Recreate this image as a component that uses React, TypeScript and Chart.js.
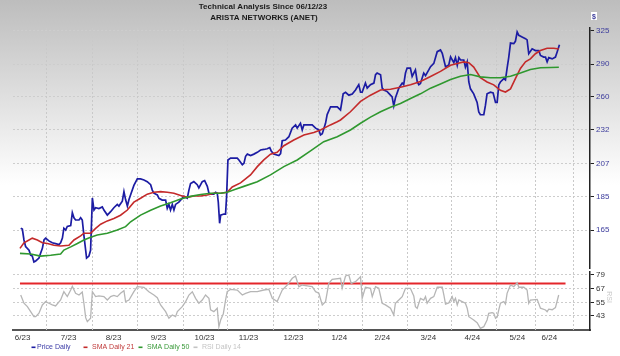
import React, { useEffect, useRef } from "react";
import { Chart, registerables } from "chart.js";

Chart.register(...registerables);

const title1 = "Technical Analysis Since 06/12/23";
const title2 = "ARISTA NETWORKS (ANET)";

// x values are calendar days since 06/12/23
const xLabels = ["6/23", "7/23", "8/23", "9/23", "10/23", "11/23", "12/23", "1/24", "2/24", "3/24", "4/24", "5/24", "6/24"];
const xLabelDays = [3.5, 34.5, 64.8, 95.1, 126.1, 155.8, 186.1, 217, 246, 277, 306.7, 337, 358.6];
const gridDays = [19, 50, 80.5, 111.3, 141.6, 172, 202.3, 232, 262.3, 292.6, 322.3, 348.6, 374.8];
const priceTicks = [165, 185, 207, 232, 260, 290, 325];
const rsiTicks = [43, 55, 67, 79];
const rsiLevel = 71.5;
const rsiLevelDays = [1.7, 369.5];

const priceSeries: [number, number][] = [
  [2.2, 166], [3.3, 165.5], [4.4, 159.5], [5.5, 156], [7.8, 154], [8.9, 151.5], [10, 151], [11.1, 148], [12.3, 148.5],
  [14.5, 150], [15.6, 152.5], [16.8, 155], [17.9, 159.5], [19, 160.5], [21.2, 159], [23.5, 158], [25.7, 157.5], [28, 157],
  [29.1, 158], [30.3, 160.5], [31.3, 166], [32.5, 165], [33.6, 167], [35.9, 167.5], [37, 175], [38.1, 172], [39.2, 170.7],
  [41.5, 170.7], [42.6, 172], [43.7, 170.7], [44.8, 162], [46, 154], [46.6, 150], [48.2, 151], [49.3, 154], [50.5, 184],
  [51.6, 176.6], [52.7, 178], [54.9, 177.5], [57.2, 178.5], [58.3, 176.6], [60.6, 173.6], [62.8, 175.6], [65, 178],
  [67.3, 180], [68.4, 179], [70.7, 182], [71.8, 188], [72.9, 183], [74.1, 179], [75.2, 183], [76.3, 186], [78.5, 192],
  [80.8, 196.3], [83, 196.3], [85.3, 195.6], [87.5, 194.5], [89.8, 192.5], [90.9, 189], [92, 187], [94.3, 185.9],
  [95.4, 183.8], [97.6, 182.7], [99.9, 182.7], [101, 177.6], [102.1, 180], [103.2, 176.6], [104.4, 180], [105.5, 176.6],
  [106.6, 180], [108.8, 181.4], [112.2, 185], [114.5, 183.8], [115.6, 189], [116.7, 193.3], [118.9, 194.5], [121.2, 192.5],
  [122.3, 190.4], [124.6, 194.5], [126.2, 195.2], [128, 191.4], [129.1, 187], [130.2, 186.4], [132.4, 186.4], [133.6, 187.6],
  [134.7, 187], [135.4, 181.4], [136.3, 168.8], [137, 173.6], [139.2, 174.2], [140.3, 174.2], [141, 185], [141.9, 209.4],
  [143.7, 210.7], [148.2, 210.7], [149.3, 209.4], [151.6, 206], [152.7, 207], [153.8, 212], [155, 213.6], [157.2, 212.6],
  [159.4, 213.6], [161.7, 214.9], [163.9, 216.6], [166.1, 217], [168.4, 217.5], [170.1, 218.4], [171.1, 215.9], [172.8, 213.6],
  [176.2, 212.6], [177.4, 214], [178.5, 223.5], [180.7, 224.1], [183, 226.6], [185.2, 233.3], [187.5, 235.9], [188.6, 233.3],
  [190.8, 237.2], [192, 231.9], [193.1, 235.9], [198.7, 235.9], [201, 233.3], [203.2, 231.9], [204.3, 228], [205.5, 229],
  [207.7, 237.2], [208.8, 244.3], [211.1, 250.9], [215.6, 250.9], [217.8, 248.2], [219.6, 262.2], [221.2, 263.6], [223.4, 261],
  [225.7, 262], [227.9, 265.7], [230.1, 270.5], [231.3, 263.6], [232.4, 263.6], [234.6, 272], [235.8, 267.3], [238, 270.5],
  [240.3, 272], [241.4, 279.8], [242.5, 281.4], [244.8, 279.8], [245.9, 267.3], [247, 265.7], [249.3, 264.2], [251.5, 261],
  [252.6, 259.5], [253.7, 251.7], [254.8, 258.5], [257.1, 267.3], [259.4, 272], [260.4, 270.5], [261.6, 281.4], [262.7, 286.2],
  [264.9, 286.2], [266.1, 278.2], [268.3, 284.4], [269.5, 273.5], [270.6, 270.5], [271.7, 271.5], [273.9, 281.4], [275.1, 279],
  [277.3, 284.4], [278.5, 287.6], [280.7, 290.8], [283, 302.6], [285.2, 304.4], [286.4, 300.9], [288.6, 287.6], [290.8, 289.3],
  [292, 297.3], [294.2, 291.6], [295.3, 296.6], [296.5, 288.9], [297.6, 296.6], [298.7, 294.2], [300.9, 294.2], [302, 287.2],
  [303.2, 292.3], [304.3, 273], [305.4, 266.7], [307.6, 262.2], [309.9, 254.7], [311, 246.5], [312.1, 244.2], [314.4, 244.2],
  [315.5, 252.1], [316.6, 262.2], [318.9, 263.6], [320.7, 263], [322.3, 254.7], [323.4, 254.7], [324.5, 270.3], [325.6, 273],
  [327.9, 276.2], [329, 275], [330.1, 285.9], [331.2, 296.6], [332.4, 311.6], [334.6, 311], [335.7, 313.5], [336.9, 323.6],
  [338, 320], [340.2, 318.2], [342.5, 316.3], [343.6, 315], [344.7, 300.5], [347, 305.6], [349.2, 303.8], [351.5, 303.8],
  [352.6, 298.8], [354.8, 297.1], [356, 297], [357.1, 292.3], [358.2, 296.6], [360.5, 295.3], [362.7, 297.1], [363.8, 302],
  [365.4, 309.8],
];

const sma21Series: [number, number][] = [
  [1.7, 155], [4.4, 158], [7.8, 159.5], [10, 160.5], [13.4, 159.5], [16.8, 158], [20.2, 157.6], [24.6, 156.7], [29.1, 156.3],
  [34.7, 156.7], [38.1, 159.5], [42.6, 161.7], [44.8, 163.2], [49.3, 163.2], [52.7, 165.9], [56.1, 168.3], [60.6, 170.2],
  [65, 171.6], [69.5, 173.5], [74.1, 176.6], [78.5, 181.4], [83, 183.8], [87.5, 186.4], [92, 187.6], [96.5, 188],
  [101, 187.6], [105.5, 187], [110, 185.5], [114.5, 184.4], [118.9, 185.2], [123.5, 185.2], [128, 185.9], [132.4, 187],
  [137, 187], [141.4, 187.6], [144.8, 191], [150.4, 193.7], [157.1, 199], [161.7, 204.7], [166.1, 209.4], [170.6, 213.6],
  [175.1, 214.9], [179.6, 219.8], [186.3, 224.1], [193.1, 228], [199.8, 229.9], [204.3, 231.9], [211, 235.9], [215.6, 238.5],
  [217.8, 239.9], [224.5, 246.7], [231.3, 255.5], [238, 261], [244.8, 265.7], [251.5, 266.3], [258.2, 268.1], [265, 270.5],
  [271.7, 273.5], [278.5, 278.2], [285.2, 283], [292, 288.9], [296.5, 290.6], [300.9, 292.3], [304.3, 291.5], [307.6, 287.2],
  [312.1, 276.9], [316.6, 273], [321.1, 270.3], [325.6, 265.3], [329, 263.8], [332.4, 266.7], [335.7, 276.2], [339.1, 285.9],
  [342.5, 292.3], [345.8, 295.3], [349.2, 300.5], [352.6, 303.8], [357.1, 306.1], [361.6, 306.1], [365, 305.4],
];

const sma50Series: [number, number][] = [
  [1.7, 152.4], [8.9, 152.1], [15.6, 151], [22.4, 151.4], [29.1, 152.1], [31.3, 154.1], [35.9, 155.8], [40.4, 157.6],
  [44.8, 159.5], [49.3, 161], [53.8, 162.2], [60.6, 163.2], [67.3, 165], [72.9, 166.9], [76.3, 169.7], [83, 173.6],
  [89.8, 176.5], [96.5, 179], [103.2, 181], [110, 183.3], [116.7, 185], [123.5, 186.2], [130.2, 187], [137, 187],
  [141.4, 187.6], [147, 189.5], [152.6, 191.4], [161.7, 194.5], [170.6, 199], [179.6, 204.7], [188.6, 209.4], [197.6, 215.9],
  [206.5, 222.8], [215.6, 226.6], [224.5, 231.9], [231.3, 237.2], [238, 242.2], [244.8, 246.7], [251.5, 250.5], [258.2, 253.7],
  [265, 258.1], [271.7, 262.2], [278.5, 267.3], [285.2, 271.1], [292, 275.2], [298.7, 278.4], [305.4, 280], [312.1, 277.8],
  [318.9, 276.9], [325.6, 276.9], [332.4, 278.4], [339.1, 281.4], [345.8, 284.8], [352.6, 286.5], [359.4, 286.8], [365, 287],
];

const rsiSeries: [number, number][] = [
  [2.2, 61.4], [4.4, 54.2], [6.7, 51.2], [8.9, 46.8], [11.1, 42.4], [12.3, 42.4], [14.5, 45.4], [16.8, 52.7], [19, 55.6],
  [21.2, 54.2], [23.5, 52.7], [25.7, 51.8], [29.1, 57], [31.3, 64.3], [33.6, 60], [35.9, 65.8], [37, 69], [39.2, 62.9],
  [41.5, 61.4], [43.7, 64], [44.8, 54.2], [46, 41.5], [47.1, 38], [49.3, 41], [50.5, 64.3], [52.7, 60], [54.9, 60.6],
  [58.3, 60], [60.6, 57], [62.8, 60], [65, 61], [67.3, 60], [69.5, 62.9], [71.8, 65.2], [72.9, 55.6], [75.2, 57],
  [78.5, 64.3], [80.8, 68.7], [85.3, 68.2], [88.6, 64.3], [92, 61.4], [94.3, 59], [96.5, 52.7], [99.9, 46.8], [102.1, 41],
  [104.4, 43.9], [106.6, 42.4], [107.8, 46.8], [111.1, 51.2], [113.4, 55.6], [115.6, 61.4], [117.9, 64.3], [120.1, 58.5],
  [122.3, 54.2], [124.6, 57], [126.8, 61.4], [129.1, 58.5], [130.2, 48.3], [132.4, 46.8], [134.7, 49.8], [135.8, 33.6],
  [137, 39.5], [138.8, 45], [140.3, 57], [141.4, 64.3], [143.7, 66.4], [148.2, 65.8], [151.6, 61.4], [153.8, 62.9],
  [157.2, 64.3], [161.7, 64.3], [166.1, 65.8], [169.5, 66.4], [171.8, 58.5], [175.1, 55.6], [178.5, 65.8], [181.9, 70.2],
  [185.3, 76.1], [187.5, 78.1], [189.7, 68.7], [192, 70.2], [196.4, 69.3], [198.7, 68.7], [201, 64.3], [203.2, 63],
  [205.5, 52.7], [207.7, 55.6], [209.9, 71.7], [212.2, 75.2], [217.8, 76.1], [218.9, 67.3], [221.2, 78.1], [223.4, 79],
  [225, 71.7], [227.9, 73.1], [231.3, 77.5], [232.4, 58.5], [234.6, 68.2], [238, 67.3], [239.2, 60], [241.4, 68.7],
  [243.6, 67.3], [245.9, 54.2], [248.1, 52.7], [251.5, 49.8], [253.7, 43.9], [254.8, 54.2], [257.1, 57], [259.4, 60],
  [261.6, 67.3], [264.9, 67.3], [267.2, 60.6], [268.3, 51.2], [269.5, 49.8], [271.7, 58.5], [273.9, 57], [275.1, 60],
  [276.2, 54.2], [278.5, 58.5], [280.7, 60], [283, 68.2], [286.4, 68.2], [287.5, 61.4], [288.6, 53.5], [290.8, 54.5],
  [293.1, 60], [294.2, 55.6], [295.3, 58.5], [296.5, 52.7], [297.6, 57], [299.8, 55.6], [302, 54.2], [303.2, 49.8],
  [304.3, 42.4], [307.6, 39.5], [309.9, 37.1], [312.1, 32.2], [314.4, 33.6], [316.6, 39.5], [317.7, 45.4], [320, 46],
  [321.1, 45.4], [322.3, 41], [323.4, 42], [324.5, 48.3], [325.6, 54.2], [327.9, 55.6], [329, 53.5], [330.1, 62.9],
  [332.4, 70.2], [334.6, 68.7], [336.9, 72.2], [338, 68.2], [341.4, 68.2], [343.6, 65.8], [344.7, 54.2], [345.8, 57],
  [350.4, 57.6], [352.6, 49.8], [356, 48.3], [357.1, 46.8], [358.2, 49], [360.5, 48.5], [362.7, 50.3], [364.9, 61.4],
];

const BLUE = "#1c1ca3";
const RED = "#c42a2a";
const GREEN = "#2f982f";
const GRAY = "#b6b6b6";
const LEVEL_RED = "#e4262b";
const FONT = "'Liberation Sans', Arial, sans-serif";

const legendItems = [
  { label: "Price Daily", color: BLUE, text: "#3a3aa6" },
  { label: "SMA Daily 21", color: RED, text: "#c03a3a" },
  { label: "SMA Daily 50", color: GREEN, text: "#3a9a3a" },
  { label: "RSI Daily 14", color: "#c4c4c4", text: "#c4c4c4" },
];

const toXY = (s: [number, number][]) => s.map(([x, y]) => ({ x, y }));

export default function App() {
  const ref = useRef<HTMLCanvasElement>(null);

  useEffect(() => {
    document.body.style.margin = "0";
    const canvas = ref.current;
    if (!canvas) return;

    const bgPlugin = {
      id: "bg",
      beforeDraw(chart: any) {
        const { ctx, width, height } = chart;
        const g = ctx.createLinearGradient(0, 0, 0, height);
        g.addColorStop(0, "#bdbdbd");
        g.addColorStop(0.2, "#d6d6d6");
        g.addColorStop(0.52, "#ffffff");
        g.addColorStop(1, "#ffffff");
        ctx.save();
        ctx.fillStyle = g;
        ctx.fillRect(0, 0, width, height);
        ctx.restore();
      },
    };

    const vGridPlugin = {
      id: "vgrid",
      beforeDatasetsDraw(chart: any) {
        const { ctx, chartArea } = chart;
        const xs = chart.scales.x;
        ctx.save();
        ctx.strokeStyle = "#c9c9c9";
        ctx.lineWidth = 1;
        ctx.setLineDash([2, 2]);
        for (const d of gridDays) {
          const px = Math.round(xs.getPixelForValue(d)) + 0.5;
          ctx.beginPath();
          ctx.moveTo(px, chartArea.top);
          ctx.lineTo(px, chartArea.bottom);
          ctx.stroke();
        }
        ctx.restore();
      },
    };

    const decoPlugin = {
      id: "deco",
      afterDraw(chart: any) {
        const { ctx } = chart;
        ctx.save();
        ctx.fillStyle = "#1a1a1a";
        ctx.font = `bold 8px ${FONT}`;
        ctx.textAlign = "center";
        ctx.textBaseline = "alphabetic";
        ctx.fillText(title1, 263, 8.5);
        ctx.fillText(title2, 264, 20);
        ctx.fillStyle = "#ffffff";
        ctx.fillRect(591, 12, 6, 8);
        ctx.fillStyle = "#3c3c9c";
        ctx.font = `bold 7px ${FONT}`;
        ctx.fillText("$", 594, 18.5);
        ctx.save();
        ctx.translate(609, 297);
        ctx.rotate(Math.PI / 2);
        ctx.fillStyle = "#c8c8c8";
        ctx.font = `7px ${FONT}`;
        ctx.textBaseline = "middle";
        ctx.fillText("RSI", 0, 0);
        ctx.restore();
        const dashX = [31.5, 83.5, 138.5, 193.5];
        const textX = [37, 92, 147, 202];
        ctx.font = `7px ${FONT}`;
        ctx.textAlign = "left";
        ctx.textBaseline = "middle";
        legendItems.forEach((it, i) => {
          ctx.fillStyle = it.color;
          ctx.fillRect(dashX[i], 346.5, 4, 1.6);
          ctx.fillStyle = it.text;
          ctx.fillText(it.label, textX[i], 347.5);
        });
        ctx.restore();
      },
    };

    const lineDs = (data: [number, number][], color: string, width: number, yAxisID: string) => ({
      data: toXY(data),
      borderColor: color,
      borderWidth: width,
      pointRadius: 0,
      tension: 0,
      fill: false,
      xAxisID: "x",
      yAxisID,
    });

    const chart = new Chart(canvas, {
      type: "line",
      data: {
        datasets: [
          lineDs(rsiSeries, GRAY, 1.3, "yRsi"),
          lineDs(rsiLevelDays.map((d) => [d, rsiLevel] as [number, number]), LEVEL_RED, 1.8, "yRsi"),
          lineDs(sma50Series, GREEN, 1.6, "y"),
          lineDs(sma21Series, RED, 1.6, "y"),
          lineDs(priceSeries, BLUE, 1.7, "y"),
        ] as any,
      },
      plugins: [bgPlugin, vGridPlugin, decoPlugin],
      options: {
        responsive: false,
        animation: false,
        devicePixelRatio: 1,
        events: [],
        layout: { padding: { top: 28, left: 13, right: 0, bottom: 0 } },
        plugins: { legend: { display: false }, tooltip: { enabled: false }, title: { display: false } },
        scales: {
          x: {
            type: "linear",
            position: "bottom",
            min: -3,
            max: 386,
            grid: { display: false, drawTicks: false },
            border: { display: true, color: "#555555", width: 2 },
            afterBuildTicks: (s: any) => {
              s.ticks = xLabelDays.map((v) => ({ value: v }));
            },
            ticks: {
              autoSkip: false,
              maxRotation: 0,
              padding: 3,
              color: "#333333",
              font: { size: 8, family: FONT },
              callback: (_v: any, i: number) => xLabels[i],
            },
            afterFit: (s: any) => {
              s.height = 26;
            },
          },
          y: {
            type: "logarithmic",
            position: "right",
            stack: "right",
            stackWeight: 240,
            min: 145,
            max: 328,
            afterBuildTicks: (s: any) => {
              s.ticks = priceTicks.map((v) => ({ value: v }));
            },
            ticks: {
              autoSkip: false,
              color: "#3c3c9c",
              padding: 2,
              font: { size: 8, family: FONT },
              callback: (v: any) => String(v),
            },
            grid: { color: "#cdcdcd", lineWidth: 1, tickLength: 4, tickColor: "#222222" },
            border: { display: true, color: "#222222", width: 1.5, dash: [2, 2] },
            afterFit: (s: any) => {
              s.width = 30;
            },
          },
          gap: {
            type: "linear",
            position: "right",
            stack: "right",
            stackWeight: 4,
            display: true,
            grid: { display: false, drawTicks: false },
            ticks: { display: false },
            border: { display: false },
            afterFit: (s: any) => {
              s.width = 30;
            },
          },
          yRsi: {
            type: "linear",
            position: "right",
            stack: "right",
            stackWeight: 58,
            min: 30.7,
            max: 81.6,
            afterBuildTicks: (s: any) => {
              s.ticks = rsiTicks.map((v) => ({ value: v }));
            },
            ticks: {
              autoSkip: false,
              color: "#333333",
              padding: 2,
              font: { size: 8, family: FONT },
              callback: (v: any) => String(v),
            },
            grid: { color: "#cdcdcd", lineWidth: 1, tickLength: 4, tickColor: "#222222" },
            border: { display: true, color: "#222222", width: 1.5, dash: [2, 2] },
            afterFit: (s: any) => {
              s.width = 30;
            },
          },
        } as any,
      },
    });

    return () => chart.destroy();
  }, []);

  return (
    <div style={{ position: "absolute", left: 0, top: 0, width: 620, height: 356 }}>
      <canvas ref={ref} width={620} height={356} style={{ display: "block", width: 620, height: 356 }} />
    </div>
  );
}
